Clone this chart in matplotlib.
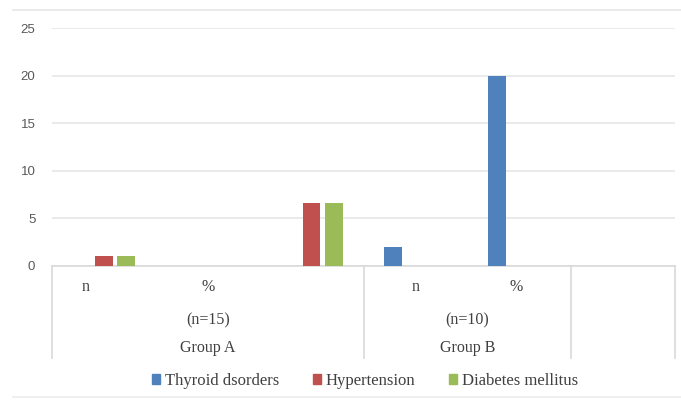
import matplotlib.pyplot as plt
import matplotlib.transforms as mtransforms
from matplotlib.patches import Patch
import numpy as np

# Category slots along the x axis (three per group, Excel multi-level layout)
sub_labels = ['n', '%', '', 'n', '%', '']
group_sizes = ['(n=15)', '(n=10)']
group_names = ['Group A', 'Group B']

series_names = ['Thyroid dsorders', 'Hypertension', 'Diabetes mellitus']
thyroid = [0, 0, 0, 2, 20, 0]
hypertension = [1, 0, 6.67, 0, 0, 0]
diabetes = [1, 0, 6.67, 0, 0, 0]

colors = ['#4f81bd', '#c0504d', '#9bbb59']
serif = ['Liberation Serif', 'DejaVu Serif']
text_grey = '#404040'
line_grey = '#d9d9d9'
cat_size = 11.5

fig = plt.figure(figsize=(6.81, 4.03), dpi=100)
ax = fig.add_axes([52 / 681, 1 - 266 / 403, 623 / 681, 237.7 / 403])

x = np.arange(len(sub_labels))
width = 0.17
step = 0.215
for i, vals in enumerate([thyroid, hypertension, diabetes]):
    ax.bar(x + (i - 1) * step, vals, width=width, color=colors[i],
           zorder=3, label=series_names[i])

ax.set_xlim(-0.5, len(sub_labels) - 0.5)
ax.set_ylim(0, 25)
ax.set_yticks(np.arange(0, 26, 5))
ax.yaxis.grid(True, color='#e6e6e6', linewidth=1.2)
ax.set_axisbelow(True)
ax.tick_params(axis='y', length=0, pad=12, labelsize=9.5, labelcolor='#595959')
for lbl in ax.get_yticklabels():
    lbl.set_family(['Liberation Sans', 'DejaVu Sans'])
ax.set_xticks([])
for side in ['top', 'right', 'left']:
    ax.spines[side].set_visible(False)
ax.spines['bottom'].set_color(line_grey)
ax.spines['bottom'].set_linewidth(1.2)

# Multi-level category axis drawn below the plot
trans = mtransforms.blended_transform_factory(ax.transData, ax.transAxes)
nudge = [-0.18, 0, 0, 0, -0.03, 0]
for i, lab in enumerate(sub_labels):
    ax.text(x[i] + nudge[i], -0.088, lab, transform=trans, ha='center',
            va='center', fontsize=cat_size, color=text_grey, family=serif)

group_centers = [1, 3.5]
for c, size, name in zip(group_centers, group_sizes, group_names):
    ax.text(c, -0.227, size, transform=trans, ha='center', va='center',
            fontsize=cat_size, color=text_grey, family=serif)
    ax.text(c, -0.345, name, transform=trans, ha='center', va='center',
            fontsize=cat_size, color=text_grey, family=serif)

for xd in [-0.5, 2.5, 4.5, 5.5]:
    ax.plot([xd, xd], [0, -0.387], transform=trans, color=line_grey,
            linewidth=1.2, clip_on=False)

# Light chart-area frame lines
fig.add_artist(plt.Line2D([13 / 681, 1], [1 - 10 / 403] * 2, color='#e6e6e6',
                          linewidth=1.2))
fig.add_artist(plt.Line2D([13 / 681, 1], [1 - 397 / 403] * 2, color='#ececec',
                          linewidth=1.2))

handles = [Patch(color=c) for c in colors]
fig.legend(handles, series_names, loc='center', ncol=3,
           bbox_to_anchor=(365 / 681, 1 - 381 / 403), frameon=False,
           prop={'family': serif, 'size': 12}, handlelength=0.5,
           handleheight=0.5, handletextpad=0.3, columnspacing=2.0,
           labelcolor=text_grey)

fig.savefig('out.png', dpi=100)
